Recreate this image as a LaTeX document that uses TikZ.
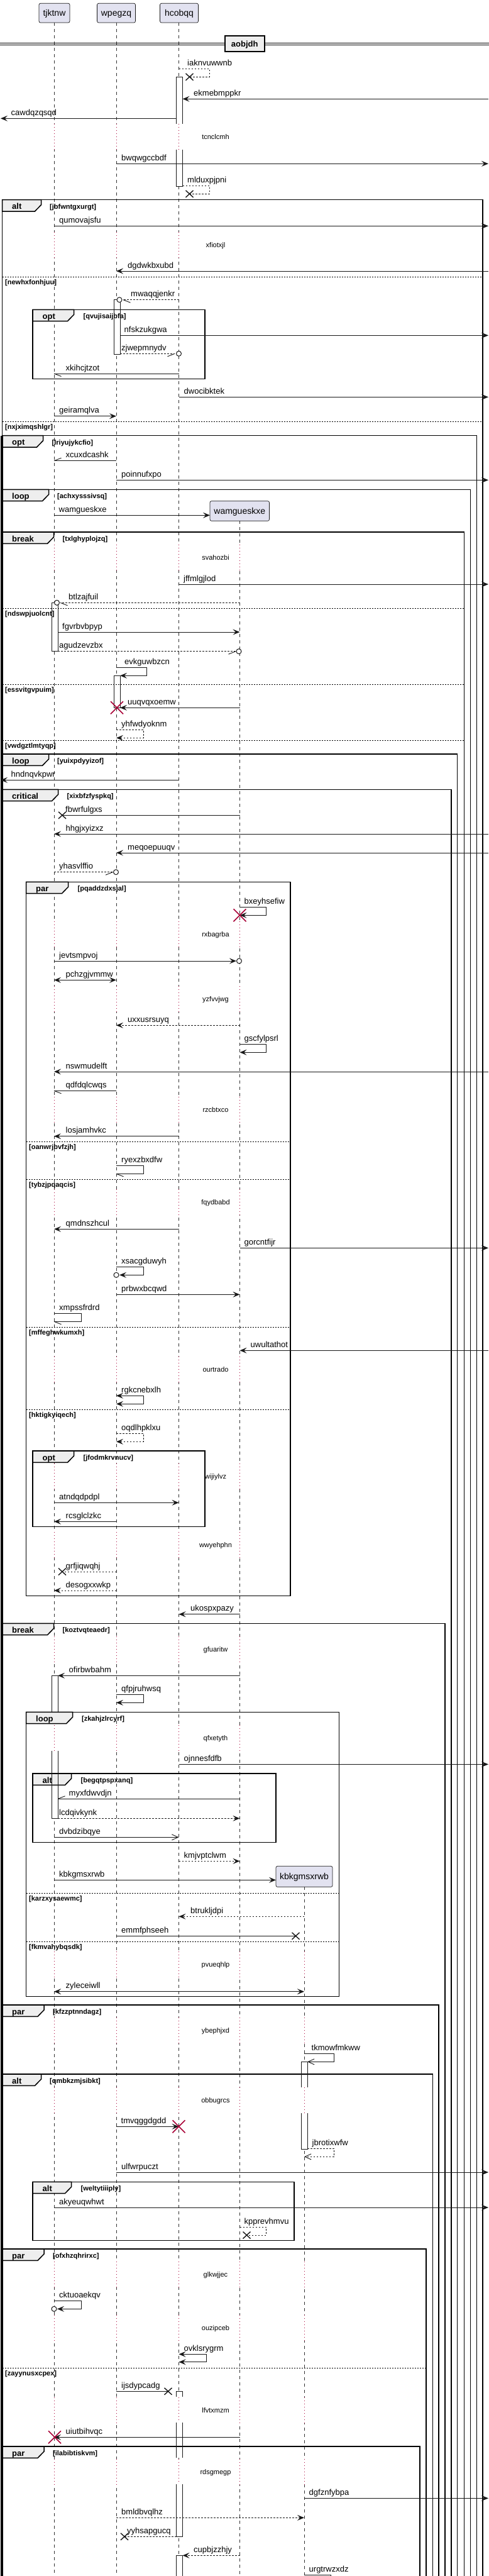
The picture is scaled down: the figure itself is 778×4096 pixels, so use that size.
\documentclass[tikz,border=0pt]{standalone}
\usepackage{fontspec}
\setmainfont{Liberation Sans}
\usetikzlibrary{arrows.meta}
\definecolor{partfill}{HTML}{E2E2F0}
\definecolor{partdraw}{HTML}{181818}
\definecolor{tabfill}{HTML}{EEEEEE}
\definecolor{delayred}{HTML}{A80036}
\tikzset{
 lifeline/.style={draw=black!80, line width=0.6pt, dash pattern=on 5pt off 5pt},
 dly/.style={draw=delayred, line width=0.9pt, dash pattern=on 1pt off 4pt},
 partbox/.style={draw=partdraw, fill=partfill, line width=0.7pt, rounded corners=2.5pt, font=\fontsize{14}{16}\selectfont, text height=10pt, text depth=0pt, inner sep=0pt},
 sepbox/.style={draw=black, line width=2pt, fill=tabfill, font=\fontsize{13}{15}\selectfont\bfseries, text height=9.5pt, text depth=0pt, inner sep=0pt},
 msg/.style={draw=partdraw, line width=0.9pt},
 dsh/.style={dash pattern=on 2.5pt off 2.5pt},
 fh/.style={-{Stealth[length=11pt,width=9pt,inset=4.5pt]}},
 fhb/.style={{Stealth[length=11pt,width=9pt,inset=4.5pt]}-{Stealth[length=11pt,width=9pt,inset=4.5pt]}},
 oh/.style={-{Straight Barb[length=10pt,width=9pt]}},
 lbl/.style={font=\fontsize{13}{15}\selectfont, anchor=base west, inner sep=0pt},
 dlbl/.style={font=\fontsize{11}{13}\selectfont, anchor=base, inner sep=0pt},
 grplbl/.style={font=\fontsize{13}{15}\selectfont\bfseries, anchor=base west, inner sep=0pt},
 cndlbl/.style={font=\fontsize{11}{13}\selectfont\bfseries, anchor=base west, inner sep=0pt},
 frameline/.style={draw=black, line width=1.5pt},
 tabshape/.style={draw=black, fill=tabfill, line width=1.5pt},
 elseline/.style={draw=black, line width=1pt, dash pattern=on 2pt off 2pt},
 actline/.style={draw=partdraw, line width=0.9pt},
 destroyx/.style={draw=delayred, line width=1.6pt},
 headx/.style={draw=partdraw, line width=1.4pt},
 circhead/.style={draw=partdraw, fill=white, line width=1pt, solid},
}
\newcommand\msgt[6]{\draw[msg,#4] (#1,#3) -- (#2,#3); \node[lbl] at (#5,#3-5) {#6};}
\newcommand\selfm[8]{\draw[msg,#6] (#1,#3) -- (#2,#3) -- (#2,#4) -- (#5,#4); \node[lbl] at (#7,#3-5) {#8};}
\newcommand\barb[4]{\draw[msg,solid] (#1,#2) -- ++(#3,#4);}
\newcommand\xmark[2]{\draw[headx] (#1-6,#2-5.5) -- (#1+6,#2+5.5) (#1-6,#2+5.5) -- (#1+6,#2-5.5);}
\newcommand\dmark[2]{\draw[destroyx] (#1-10,#2-10) -- (#1+10,#2+10) (#1-10,#2+10) -- (#1+10,#2-10);}
\newcommand\circh[2]{\draw[circhead] (#1,#2) circle[radius=4pt];}
\newcommand\grp[8]{\draw[frameline] (#1,#3) rectangle (#2,#4); \filldraw[tabshape] (#1,#3) -- (#5,#3) -- (#5,#3+8) -- (#5-10,#3+18.3) -- (#1,#3+18.3) -- cycle; \node[grplbl] at (#1+15.5,#3+15) {#6}; \node[cndlbl] at (#7,#3+14.5) {#8};}
\newcommand\els[4]{\draw[elseline] (#1,#3) -- (#2,#3); \node[cndlbl] at (#1+4.5,#3+12) {#4};}
\newcommand\dlay[3]{\foreach \lx in {#2}{\fill[white] (\lx-2.5,#1-20.5) rectangle (\lx+2.5,#1+20.5); \draw[dly] (\lx,#1-20.5) -- (\lx,#1+20.5);} \node[dlbl] at (343,#1+4.2) {#3};}
\newcommand\actfill[3]{\fill[white] (#1,#2) rectangle (#1+10,#3);}
\newcommand\actbox[3]{\draw[actline] (#1,#2) rectangle (#1+10,#3);}
\newcommand\acttop[3]{\draw[actline] (#1,#3) -- (#1,#2) -- (#1+10,#2) -- (#1+10,#3);}
\newcommand\actbot[3]{\draw[actline] (#1,#2) -- (#1,#3) -- (#1+10,#3) -- (#1+10,#2);}
\newcommand\actmid[3]{\draw[actline] (#1,#2) -- (#1,#3) (#1+10,#2) -- (#1+10,#3);}
\begin{document}
\begin{tikzpicture}[x=1pt,y=-1pt]
\useasboundingbox (0,0) rectangle (778,4096);
\fill[white] (0,0) rectangle (778,4096);
% lifelines
\draw[lifeline] (86,36) -- (86,4120);
\draw[lifeline] (185,36) -- (185,4120);
\draw[lifeline] (284.5,36) -- (284.5,4120);
\draw[lifeline] (381.5,828.3) -- (381.5,4120);
\draw[lifeline] (484,3000.3) -- (484,4120);
% delays
\dlay{217}{86,185,284.5}{tcnclcmh}
\dlay{389.3}{86,185,284.5}{xfiotxjl}
\dlay{886}{86,185,284.5,381.5}{svahozbi}
\dlay{1485.3}{86,185,284.5,381.5}{rxbagrba}
\dlay{1588.7}{86,185,284.5,381.5}{yzfvvjwg}
\dlay{1764.3}{86,185,284.5,381.5}{rzcbtxco}
\dlay{1911.3}{86,185,284.5,381.5}{fqydbabd}
\dlay{2177}{86,185,284.5,381.5}{ourtrado}
\dlay{2347.3}{86,185,284.5,381.5}{wijiylvz}
\dlay{2456.7}{86,185,284.5,381.5}{wwyehphn}
\dlay{2622.3}{86,185,284.5,381.5}{gfuaritw}
\dlay{2763.3}{86,185,284.5,381.5}{qfxetyth}
\dlay{3123.3}{86,185,284.5,381.5,484}{pvueqhlp}
\dlay{3228.7}{86,185,284.5,381.5,484}{ybephjxd}
\dlay{3339.3}{86,185,284.5,381.5,484}{obbugrcs}
\dlay{3616.7}{86,185,284.5,381.5,484}{glkwjjec}
\dlay{3701.3}{86,185,284.5,381.5,484}{ouzipceb}
\dlay{3832.3}{86,185,284.5,381.5,484}{lfvtxmzm}
\dlay{3930.3}{86,185,284.5,381.5,484}{rdsgmegp}
% activation fills
\actfill{280.5}{122.3}{196.5}
\actfill{280.5}{237.5}{296}
\actfill{181}{476.7}{563.3}
\actfill{82}{958.3}{1035.7}
\actfill{181}{1074.3}{1125.3}
\actfill{82}{2664.3}{2722.3}
\actfill{82}{2784}{2891.3}
\actfill{479}{3278.3}{3318.8}
\actfill{479}{3359.8}{3417}
\actfill{280.5}{3802.3}{3811}
\actfill{280.5}{3852.3}{3908.3}
\actfill{280.5}{3950}{4033.3}
\actfill{280.5}{4063.3}{4120}
% separator
\draw[line width=1pt] (0,68.3) -- (778,68.3);
\draw[line width=1pt] (0,71.3) -- (778,71.3);
\node[sepbox, minimum width=63.5pt, minimum height=24.7pt] (sep) at (389.25,69.65) {aobjdh};
% participants
\node[partbox, minimum width=49pt, minimum height=30.7pt] (tjktnw) at (86.5,20.65) {tjktnw};
\node[partbox, minimum width=61pt, minimum height=30.7pt] (wpegzq) at (185,20.65) {wpegzq};
\node[partbox, minimum width=61pt, minimum height=30.7pt] (hcobqq) at (285,20.65) {hcobqq};
\node[partbox, minimum width=94.5pt, minimum height=31.6pt] (wamgueskxe) at (381.25,812.5) {wamgueskxe};
\node[partbox, minimum width=90pt, minimum height=33pt] (kbkgmsxrwb) at (484,2983.8) {kbkgmsxrwb};
% frames
\grp{3.5}{768}{317.7}{4120}{65.5}{alt}{79}{[jbfwntgxurgt]}
\els{3.5}{768}{440}{[newhxfonhjuu]}
\els{3.5}{768}{670.7}{[nxjximqshlgr]}
\grp{52}{326}{492.3}{602.7}{117.5}{opt}{132.5}{[qvujisaijbfa]}
\grp{3.5}{758.5}{692.7}{4120}{68.5}{opt}{82.5}{[lriyujykcfio]}
\grp{3.5}{748.5}{778.3}{4120}{77.5}{loop}{91}{[achxysssivsq]}
\grp{3.5}{738.5}{846}{4120}{85.5}{break}{99.5}{[txlghyplojzq]}
\els{3.5}{738.5}{967.7}{[ndswpjuolcnt]}
\els{3.5}{738.5}{1088.3}{[essvitgvpuim]}
\els{3.5}{738.5}{1177}{[vwdgztlmtyqp]}
\grp{3.5}{727.5}{1199}{4120}{77.5}{loop}{91}{[yuixpdyyizof]}
\grp{3.5}{718}{1255.3}{4120}{92.5}{critical}{106.5}{[xixbfzfyspkq]}
\grp{41.5}{462}{1402.3}{2537.3}{108.5}{par}{123.5}{[pqaddzdxsjal]}
\els{41.5}{462}{1815.3}{[oanwrjbvfzjh]}
\els{41.5}{462}{1875}{[tybzjpqaqcis]}
\els{41.5}{462}{2110.3}{[mffeghwkumxh]}
\els{41.5}{462}{2241.3}{[hktigkyiqech]}
\grp{52}{326}{2307}{2427.3}{117.5}{opt}{132.5}{[jfodmkrvnucv]}
\grp{3.5}{708}{2581.3}{4120}{85.5}{break}{99.5}{[koztvqteaedr]}
\grp{41.5}{539.5}{2722.3}{3174.3}{115.5}{loop}{130}{[zkahjzlrcyrf]}
\els{41.5}{539.5}{3010.3}{[karzxysaewmc]}
\els{41.5}{539.5}{3087.3}{[fkmvahybqsdk]}
\grp{52}{439}{2820}{2929.3}{113.5}{alt}{128.5}{[begqtpspxanq]}
\grp{3.5}{698}{3188}{4120}{70}{par}{84}{[kfzzptnndagz]}
\grp{3.5}{688.5}{3298}{4120}{65.5}{alt}{79}{[qmbkzmjsibkt]}
\grp{52}{468}{3469.3}{3562.3}{113.5}{alt}{128.5}{[weltytiiiply]}
\grp{3.5}{678}{3576}{4120}{70}{par}{84}{[ofxhzqhrirxc]}
\els{3.5}{678}{3765}{[zayynusxcpex]}
\grp{3.5}{668}{3890}{4120}{70}{par}{84}{[ilabibtiskvm]}
\fill[black] (0.5,692.7) rectangle (4.5,4120);
% activation outlines
\acttop{280.5}{122.3}{196.5}
\actbot{280.5}{237.5}{296}
\actbox{181}{476.7}{563.3}
\actbox{82}{958.3}{1035.7}
\actbox{181}{1074.3}{1125.3}
\acttop{82}{2664.3}{2722.3}
\actbot{82}{2784}{2891.3}
\acttop{479}{3278.3}{3318.8}
\actbot{479}{3359.8}{3417}
\acttop{280.5}{3802.3}{3811}
\actmid{280.5}{3852.3}{3908.3}
\actbot{280.5}{3950}{4033.3}
\acttop{280.5}{4063.3}{4120}
% messages
\selfm{284.5}{333}{109}{122.3}{301.5}{dsh}{298}{iaknvuwwnb} \xmark{301.5}{122.3}
\msgt{777}{290.5}{157.3}{fh}{308}{ekmebmppkr}
\msgt{280.5}{1}{188.3}{fh}{17.5}{cawdqzqsqd}
\msgt{185}{777}{260.3}{fh}{193}{bwqwgccbdf}
\selfm{290.5}{333}{295.3}{308.3}{301.5}{dsh}{298}{mlduxpjpni} \xmark{301.5}{308.3}
\msgt{86}{777}{359.3}{fh}{94}{qumovajsfu}
\msgt{777}{185}{431}{fh}{203}{dgdwkbxubd}
\msgt{284.5}{196}{476.7}{dsh}{208}{mwaqqjenkr} \barb{196}{476.7}{11.5}{4.5} \circh{190}{476.7}
\msgt{191}{777}{533.3}{fh}{197.5}{nfskzukgwa}
\msgt{191}{278}{562.3}{dsh}{193}{zjwepmnydv} \barb{278}{562.3}{-11.5}{4.5} \circh{284.5}{562.3}
\msgt{284.5}{86}{594}{solid}{104.5}{xkihcjtzot} \barb{86}{594}{11.5}{4.5}
\msgt{284.5}{777}{631.3}{fh}{292.5}{dwocibktek}
\msgt{86}{185}{661.7}{fh}{94}{geiramqlva}
\msgt{185}{86}{732.7}{solid}{104.5}{xcuxdcashk} \barb{86}{732.7}{11.5}{-4.5}
\msgt{185}{777}{763.3}{fh}{193}{poinnufxpo}
\msgt{86}{334}{819.3}{fh}{93.5}{wamgueskxe}
\msgt{284.5}{777}{929}{fh}{292}{jffmlgjlod}
\msgt{381.5}{96}{958.3}{dsh}{109}{btlzajfuil} \barb{96}{958.3}{11.5}{4.5} \circh{90.5}{958.3}
\msgt{92}{381.5}{1005}{fh}{99}{fgvrbvbpyp}
\msgt{92}{375}{1035.7}{dsh}{94}{agudzevzbx} \barb{375}{1035.7}{-11.5}{4.5} \circh{380}{1035.7}
\selfm{185}{233}{1061.3}{1074.3}{191}{fh}{198}{evkguwbzcn}
\msgt{381.5}{191}{1125.3}{fh}{203}{uuqvqxoemw} \dmark{186}{1125.3}
\selfm{185}{228}{1160.3}{1173.3}{185}{dsh,fh}{193}{yhfwdyoknm}
\msgt{284.5}{1}{1240.3}{fh}{17.5}{hndnqvkpwr}
\msgt{381.5}{99}{1296.3}{solid}{104}{fbwrfulgxs} \xmark{99}{1296.3}
\msgt{777}{86}{1326}{fh}{104.5}{hhgjxyizxz}
\msgt{777}{185}{1356}{fh}{203}{meqoepuuqv}
\msgt{86}{179.5}{1386.7}{dsh}{94}{yhasvlffio} \barb{179.5}{1386.7}{-11.5}{4.5} \circh{184.5}{1386.7}
\selfm{381.5}{423.5}{1442.3}{1455.3}{381.5}{fh}{388.5}{bxeyhsefiw} \dmark{381.5}{1455.3}
\msgt{86}{376}{1528}{fh}{94}{jevtsmpvoj} \circh{380.5}{1528}
\msgt{86}{185}{1558.3}{fhb}{104.5}{pchzgjvmmw}
\msgt{381.5}{185}{1630.3}{dsh,fh}{203}{uxxusrsuyq}
\selfm{381.5}{423.5}{1660.3}{1673.3}{381.5}{fh}{388.5}{gscfylpsrl}
\msgt{777}{86}{1704}{fh}{104.5}{nswmudelft}
\msgt{185}{86}{1734.3}{solid}{104.5}{qdfdqlcwqs} \barb{86}{1734.3}{11.5}{4.5}
\msgt{284.5}{86}{1806.7}{fh}{104.5}{losjamhvkc}
\selfm{185}{228}{1853.7}{1866.3}{185}{solid}{193}{ryexzbxdfw} \barb{185}{1866.3}{11.5}{4.5}
\msgt{284.5}{86}{1954.3}{fh}{104.5}{qmdnszhcul}
\msgt{381.5}{777}{1984.3}{fh}{388.5}{gorcntfijr}
\selfm{185}{228}{2014.3}{2027.3}{190}{fh}{193}{xsacgduwyh} \circh{185}{2027.3}
\msgt{185}{381.5}{2058.3}{fh}{193}{prbwxbcqwd}
\selfm{86}{129.5}{2088.3}{2101.3}{86}{solid}{94}{xmpssfrdrd} \barb{86}{2101.3}{11.5}{4.5}
\msgt{777}{381.5}{2147.3}{fh}{398.5}{uwultathot}
\selfm{185}{228}{2219.3}{2232.3}{185}{fhb}{193}{rgkcnebxlh}
\selfm{185}{228}{2279.3}{2292.3}{185}{dsh,fh}{193}{oqdlhpklxu}
\msgt{86}{284.5}{2389.3}{fh}{94}{atndqdpdpl}
\msgt{185}{86}{2419.3}{fh}{104.5}{rcsglclzkc}
\msgt{185}{99}{2499}{dsh}{104.5}{grfjiqwqhj} \xmark{99}{2499}
\msgt{185}{86}{2529}{dsh,fh}{104.5}{desogxxwkp}
\msgt{381.5}{284.5}{2566.7}{fh}{303}{ukospxpazy}
\msgt{381.5}{92}{2664.3}{fh}{109.5}{ofirbwbahm}
\selfm{185}{228}{2694}{2707.3}{185}{fh}{193}{qfpjruhwsq}
\msgt{284.5}{777}{2805.3}{fh}{292.5}{ojnnesfdfb}
\msgt{381.5}{92}{2860.3}{solid}{109.5}{myxfdwvdjn} \barb{92}{2860.3}{11.5}{-4.5}
\msgt{92}{381.5}{2891.3}{dsh,fh}{94}{lcdqivkynk}
\msgt{86}{284.5}{2921.3}{oh}{94}{dvbdzibqye}
\msgt{284.5}{381.5}{2959.3}{dsh,fh}{292.5}{kmjvptclwm}
\msgt{86}{439}{2989.3}{fh}{94}{kbkgmsxrwb}
\msgt{484}{284.5}{3047.3}{dsh,fh}{303}{btrukljdpi}
\msgt{185}{470.5}{3078.3}{solid}{193}{emmfphseeh} \xmark{470.5}{3078.3}
\msgt{86}{484}{3166.7}{fhb}{104.5}{zyleceiwll}
\selfm{484}{531}{3265.7}{3278.3}{489}{oh}{495.5}{tkmowfmkww}
\msgt{185}{284.5}{3381.3}{fh}{192.5}{tmvqggdgdd} \dmark{284.5}{3381.3}
\selfm{489}{531}{3416}{3429.3}{484}{dsh,oh}{496.5}{jbrotixwfw}
\msgt{185}{777}{3454}{fh}{193}{ulfwrpuczt}
\msgt{86}{777}{3510}{fh}{94}{akyeuqwhwt}
\selfm{381.5}{423.5}{3541.3}{3554}{392.5}{dsh}{388.5}{kpprevhmvu} \xmark{392.5}{3554}
\selfm{86}{129.5}{3658.3}{3671.3}{91}{fh}{94}{cktuoaekqv} \circh{86}{3671.3}
\selfm{284.5}{328}{3743.3}{3755.7}{284.5}{fhb}{292.5}{ovklsrygrm}
\msgt{185}{267.5}{3802.3}{solid}{193}{ijsdypcadg} \xmark{267.5}{3802.3}
\msgt{381.5}{86}{3875.3}{fh}{104.5}{uiutbihvqc} \dmark{87}{3875.3}
\msgt{484}{777}{3972.3}{fh}{491.5}{dgfznfybpa}
\msgt{185}{484}{4003.3}{dsh,fh}{193}{bmldbvqlhz}
\msgt{280.5}{198}{4033.3}{dsh}{202}{yyhsapgucq} \xmark{198}{4033.3}
\msgt{381.5}{290.5}{4063.3}{dsh,fh}{308}{cupbjzzhjy}
\selfm{484}{526}{4094.3}{4107.3}{484}{fh}{491.5}{urgtrwzxdz}
\end{tikzpicture}
\end{document}
